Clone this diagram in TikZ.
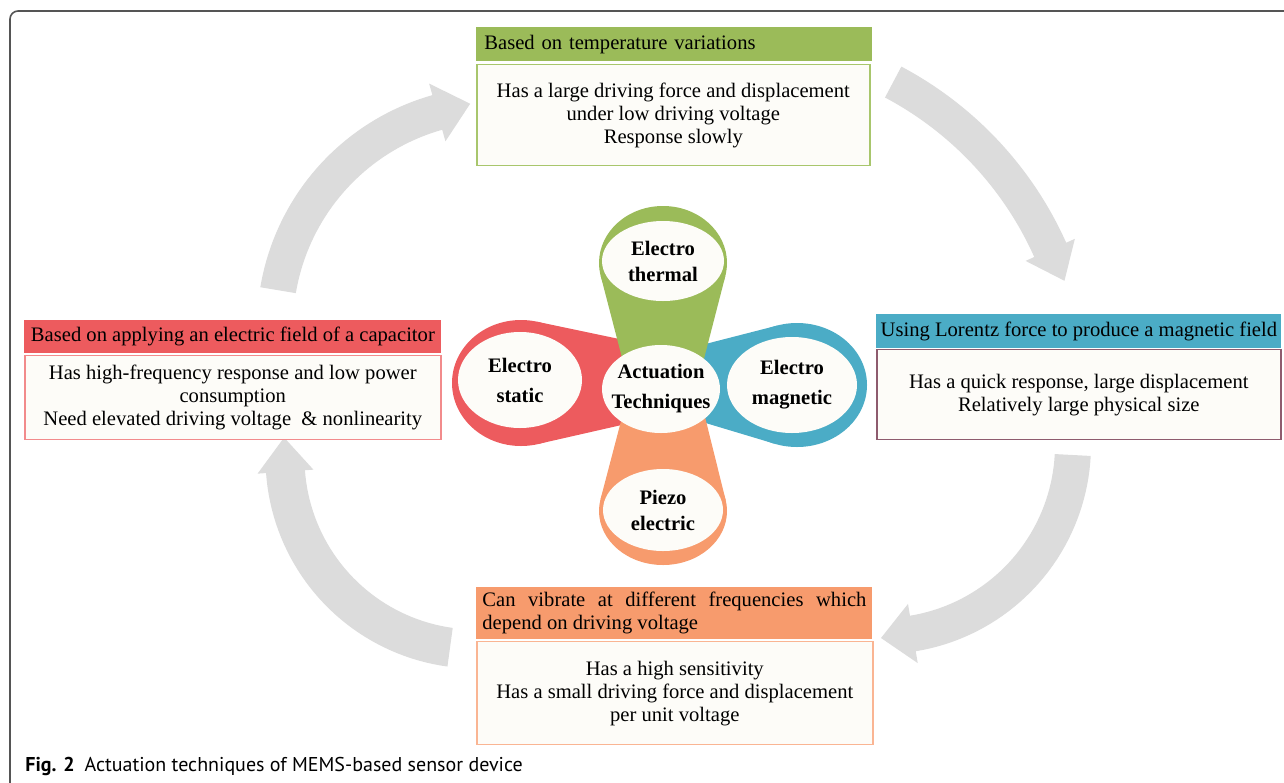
\documentclass[tikz,border=0pt]{standalone}
\usepackage{fontspec}
\setmainfont{Liberation Serif}
\setsansfont{PT Sans}
\usetikzlibrary{positioning,shapes.geometric}

\definecolor{thermgreen}{HTML}{9BBB59}
\definecolor{staticred}{HTML}{ED5B5E}
\definecolor{magblue}{HTML}{4BACC6}
\definecolor{piezoorange}{HTML}{F79B6D}
\definecolor{thermline}{HTML}{A8C66C}
\definecolor{staticline}{HTML}{F28B8C}
\definecolor{magline}{HTML}{8E5B6E}
\definecolor{piezoline}{HTML}{FAB593}
\definecolor{cream}{HTML}{FDFCF8}
\definecolor{arrowgray}{HTML}{DCDCDC}
\definecolor{framegray}{HTML}{555555}

% curved gray arrow: centre x, centre y, radius, half width, half head, start angle, head angle, tip angle
\newcommand{\cyclearrow}[8]{%
  \fill[arrowgray] plot[domain=#6:#7, samples=40] ({#1+(#3+#4)*cos(\x)},{#2+(#3+#4)*sin(\x)})
    -- ({#1+(#3+#5)*cos(#7)},{#2+(#3+#5)*sin(#7)})
    -- ({#1+(#3+2)*cos(#8)},{#2+(#3+2)*sin(#8)})
    -- ({#1+(#3-#5)*cos(#7)},{#2+(#3-#5)*sin(#7)})
    -- plot[domain=#7:#6, samples=40] ({#1+(#3-#4)*cos(\x)},{#2+(#3-#4)*sin(\x)}) -- cycle;}

\begin{document}
\begin{tikzpicture}[x=0.5pt, y=-0.5pt,
  head/.style={anchor=north west, inner xsep=3pt, inner ysep=0pt, font=\fontsize{10.3}{11.5}\selectfont},
  body/.style={draw, fill=cream, line width=0.8pt, align=center, inner sep=0pt, font=\fontsize{10.3}{11.5}\selectfont},
  petal/.style={ellipse, fill=cream, inner sep=0pt, align=center, font=\bfseries\fontsize{10.3}{13}\selectfont},
  wide/.style={font=\bfseries\fontsize{10.3}{15}\selectfont}]
\useasboundingbox (0,0) rectangle (1284,782);

% frame
\draw[framegray, line width=0.8pt, rounded corners=4pt] (10,800) -- (10,11) -- (1300,11);

% cycle arrows
\cyclearrow{498}{327}{223}{18}{30}{189.5}{254.2}{262.9}
\cyclearrow{728}{394}{353}{17.5}{27}{-62.1}{-24.1}{-18.6}
\cyclearrow{882}{445}{191}{18}{30}{3}{80.7}{90.3}
\cyclearrow{476}{458}{191}{19.5}{28}{97.8}{175.9}{186.1}

% petals
\fill[staticred] (655,346.5) -- (536.5,321.6) -- (537.6,444.1) -- (655,417.4) -- cycle;
\fill[staticred] (521,383) ellipse [x radius=69, y radius=63];
\fill[magblue] (675,351.8) -- (777.5,325.5) -- (774.5,443.7) -- (675,413.8) -- cycle;
\fill[magblue] (797,385) ellipse [x radius=70, y radius=62];
\fill[thermgreen] (627.8,380) -- (600.7,275.9) -- (725.4,275.8) -- (698.5,380) -- cycle;
\fill[thermgreen] (663,263) ellipse [x radius=64, y radius=57];
\fill[piezoorange] (627.6,396) -- (600.5,499.3) -- (725.6,499.9) -- (699.8,396) -- cycle;
\fill[piezoorange] (663,511) ellipse [x radius=64, y radius=54];

\node[petal, minimum width=61pt, minimum height=40pt] (thermal) at (663,261) {Electro\\thermal};
\node[petal, wide, minimum width=62pt, minimum height=48pt] (static) at (520,380) {Electro\\static};
\node[petal, wide, minimum width=65pt, minimum height=48pt] (magnetic) at (792,385) {Electro\\magnetic};
\node[petal, minimum width=60pt, minimum height=41pt] (piezo) at (663,510) {Piezo\\electric};
\node[petal, wide, minimum width=59pt, minimum height=44pt] (actuation) at (661,389) {\makebox[40pt]{Actuation}\\\makebox[40pt]{Techniques}};

% description boxes
\node[head, fill=thermgreen, minimum width=198pt, minimum height=17pt, inner xsep=4pt, text width=190pt, align=left] (thermHead) at (476,27) {Based on temperature variations};
\node[body, draw=thermline, minimum width=196.5pt, minimum height=50.5pt, below right=1pt and 0pt of thermHead.south west] (thermBody) {Has a large driving force and displacement\\under low driving voltage\\Response slowly};

\node[head, fill=staticred, minimum width=208.5pt, minimum height=16.5pt] (staticHead) at (24,320) {Based on applying an electric field of a capacitor};
\node[body, draw=staticline, minimum width=208pt, minimum height=42pt, below right=0.5pt and 0pt of staticHead.south west] (staticBody) {Has high-frequency response and low power\\consumption\\Need elevated driving voltage \ \& nonlinearity};

\node[head, fill=magblue, minimum width=202.5pt, minimum height=17pt, inner xsep=1pt] (magHead) at (876,314) {Using Lorentz force to produce a magnetic field};
\node[body, draw=magline, minimum width=202pt, minimum height=45pt, below right=0pt and 0pt of magHead.south west] (magBody) {Has a quick response, large displacement\\Relatively large physical size};

\node[head, fill=piezoorange, minimum width=198pt, minimum height=26pt, text width=192pt, align=justify] (piezoHead) at (476,587) {Can vibrate at different frequencies which\linebreak depend on driving voltage};
\node[body, draw=piezoline, minimum width=198pt, minimum height=51.5pt, below right=0.5pt and 0pt of piezoHead.south west] (piezoBody) {Has a high sensitivity\\Has a small driving force and displacement\\per unit voltage};

% caption
\node[anchor=base west, inner sep=0pt, font=\sffamily\fontsize{10}{12}\selectfont] (caption) at (25,771) {\textbf{Fig. 2}\enspace Actuation techniques of MEMS-based sensor device};
\end{tikzpicture}
\end{document}
